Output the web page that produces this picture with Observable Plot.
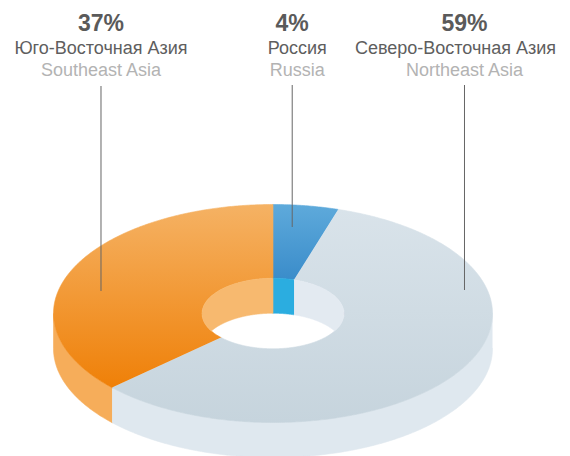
<!DOCTYPE html>
<html><head><meta charset="utf-8">
<script src="https://cdn.jsdelivr.net/npm/d3@7"></script>
<script src="https://cdn.jsdelivr.net/npm/@observablehq/plot@0.6"></script>
<style>body{margin:0;background:#fff}</style>
</head><body><div id="chart"></div>
<script>
// ---- data (clockwise from 12 o'clock) ----
const regionsRu = ["Россия", "Северо-Восточная Азия", "Юго-Восточная Азия"];
const regionsEn = ["Russia", "Northeast Asia", "Southeast Asia"];
const percentLabels = ["4%", "59%", "37%"];
const shares = [4.8, 58.3, 36.9]; // slice sizes as drawn

// ---- layout ----
const W = 570, H = 456;
const K = 219.5, CX = 272.5, CY = 313;          // px per unit, centre
const R_OUT = 1, R_IN = 0.3235, TILT = 0.4966, DEPTH = 0.1595;
const topGrad = [["#5eaadb", "#3a8cca"], ["#d9e3ea", "#c6d4dd"], ["#f5b264", "#ef8008"]];
const sideColors = ["#3d93cf", "#dfe8ef", "#f6ad5a"];
const wallColors = ["#2badE0", "#e3eaf1", "#f7b96f"];
const leaderX = [0.0875, 0.8724, -0.7836];
const leaderEndPx = [227, 290, 291];
const leaderTopPx = [85, 85, 86];
const ruDx = [5, -9, 0];
const enDx = [5, 0, 0];
const toY = px => (CY - px) / K;

const total = d3.sum(shares);
let acc = 0;
const slices = shares.map((v, i) => {
  const a0 = acc / total * 360; acc += v;
  return {i, a0, a1: acc / total * 360};
});
const rad = d => d * Math.PI / 180;
const pt = (r, t, drop = 0) => ({x: r * Math.sin(rad(t)), y: r * Math.cos(rad(t)) * TILT - drop});
const range = (lo, hi, step = 0.5) => {
  const out = []; for (let t = lo; t < hi; t += step) out.push(t); out.push(hi); return out;
};

const topFaces = slices.map(s => [
  ...range(s.a0, s.a1).map(t => pt(R_OUT, t)),
  ...range(s.a0, s.a1).reverse().map(t => pt(R_IN, t))
]);

const sides = [];
slices.forEach(s => {
  const lo = Math.max(s.a0, 90), hi = Math.min(s.a1, 270);
  if (lo < hi) sides.push({i: s.i, pts: [
    ...range(lo, hi).map(t => pt(R_OUT, t)),
    ...range(lo, hi).reverse().map(t => pt(R_OUT, t, DEPTH))
  ]});
});

const walls = [];
slices.forEach(s => {
  [[0, 90], [270, 360]].forEach(([u0, u1]) => {
    const lo = Math.max(s.a0, u0), hi = Math.min(s.a1, u1);
    if (lo >= hi) return;
    const ts = range(lo, hi, 0.25);
    const top = ts.map(t => pt(R_IN, t));
    const bot = ts.map(t => {
      const c = Math.abs(Math.cos(rad(t))) * R_IN * TILT;
      return {x: R_IN * Math.sin(rad(t)), y: Math.max(-c, c - DEPTH)};
    }).reverse();
    walls.push({i: s.i, pts: [...top, ...bot]});
  });
});

const defs = () => {
  const ns = "http://www.w3.org/2000/svg";
  const d = document.createElementNS(ns, "defs");
  topGrad.forEach((g, i) => {
    const lg = document.createElementNS(ns, "linearGradient");
    lg.setAttribute("id", "tg" + i);
    lg.setAttribute("x1", 0); lg.setAttribute("y1", 0);
    lg.setAttribute("x2", 0); lg.setAttribute("y2", 1);
    g.forEach((c, k) => {
      const st = document.createElementNS(ns, "stop");
      st.setAttribute("offset", k); st.setAttribute("stop-color", c);
      lg.appendChild(st);
    });
    d.appendChild(lg);
  });
  return d;
};

const poly = (pts, color) => Plot.line(pts, {x: "x", y: "y", fill: color, stroke: color, strokeWidth: 0.6});

const idx = [0, 1, 2];
const font = "'Liberation Sans', Arial, sans-serif";

const chart = Plot.plot({
  width: W, height: H,
  marginTop: 0, marginRight: 0, marginBottom: 0, marginLeft: 0,
  x: {domain: [-CX / K, (W - CX) / K], range: [0, W], axis: null},
  y: {domain: [(CY - H) / K, CY / K], range: [H, 0], axis: null},
  style: {fontFamily: font, background: "#fff"},
  marks: [
    defs,
    ...sides.map(s => poly(s.pts, sideColors[s.i])),
    ...topFaces.map((p, i) => poly(p, `url(#tg${i})`)),
    ...walls.map(w => poly(w.pts, wallColors[w.i])),
    Plot.ruleX(idx, {x: i => leaderX[i], y1: i => toY(leaderTopPx[i]), y2: i => toY(leaderEndPx[i]), stroke: "#666", strokeWidth: 1}),
    Plot.text(idx, {x: i => leaderX[i], text: i => percentLabels[i], frameAnchor: "top", dy: 30.7, lineAnchor: "bottom",
      fontSize: 23, fontWeight: "bold", fill: "#5a5a5a"}),
    ...idx.map(i => Plot.text([i], {x: i => leaderX[i], text: i => regionsRu[i], frameAnchor: "top", dy: 53.5, dx: ruDx[i],
      lineAnchor: "bottom", fontSize: 18, fill: "#5e5e5e"})),
    ...idx.map(i => Plot.text([i], {x: i => leaderX[i], text: i => regionsEn[i], frameAnchor: "top", dy: 75, dx: enDx[i],
      lineAnchor: "bottom", fontSize: 18, fill: "#b3b3b3"}))
  ]
});
document.getElementById("chart").appendChild(chart);
</script>
</body></html>
